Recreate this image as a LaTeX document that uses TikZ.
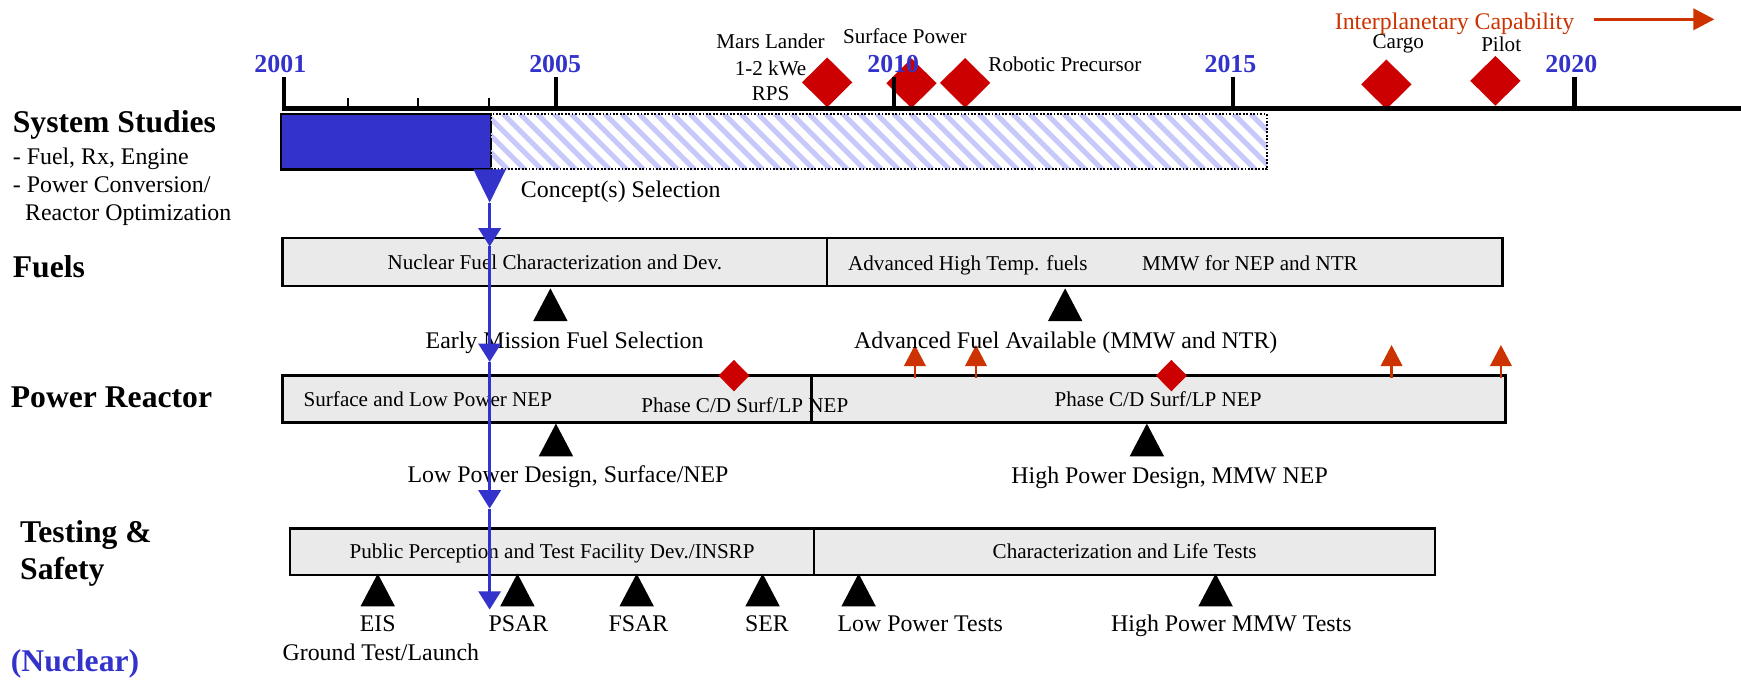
\documentclass[tikz,border=0pt]{standalone}
\usepackage{fontspec}
\setmainfont{Liberation Serif}
\usetikzlibrary{shapes.geometric,arrows.meta}
\definecolor{nblue}{RGB}{51,51,204}
\definecolor{nred}{RGB}{204,0,0}
\definecolor{norange}{RGB}{204,51,0}
\definecolor{boxgray}{RGB}{234,234,234}
\definecolor{hatchblue}{RGB}{200,200,250}
\begin{document}
\begin{tikzpicture}[x=1pt,y=-1pt,
  lbl/.style={font=\fontsize{21.5}{24}\selectfont, inner sep=0pt, text height=14.2pt, text depth=0pt},
  sm/.style={font=\fontsize{19}{22}\selectfont, inner sep=0pt, text height=12.5pt, text depth=0pt},
  hd/.style={font=\bfseries\fontsize{28.5}{32}\selectfont, inner sep=0pt, text height=18.8pt, text depth=0pt, anchor=west},
  yr/.style={font=\bfseries\fontsize{23.3}{26}\selectfont, text=nblue, inner sep=0pt, text height=15.7pt, text depth=0pt},
  gbox/.style={draw=black, line width=2.2pt, fill=boxgray, inner sep=0pt},
  bigdiam/.style={diamond, fill=nred, inner sep=0pt, minimum width=45.5pt, minimum height=45pt},
  smalldiam/.style={diamond, fill=nred, inner sep=0pt, minimum width=28pt, minimum height=28.5pt},
  majortick/.style={line width=4pt},
  minortick/.style={line width=2pt},
  flow/.style={draw=nblue, line width=2.6pt, -{Triangle[length=16.5pt,width=20pt]}},
  oarrow/.style={draw=norange, line width=2.3pt, -{Triangle[length=19pt,width=19.3pt]}},
  ms/.pic={\fill (-15.5,29.5) -- (15.5,29.5) -- (0,0) -- cycle;}
]
\useasboundingbox (0,0) rectangle (1568,612);

% ---- milestone diamonds on the timeline
\node[bigdiam] (ml) at (745,74.2) {};
\node[bigdiam] (sp) at (820.9,75) {};
\node[bigdiam] (rp) at (869.2,74.7) {};
\node[bigdiam] (cg) at (1248.6,76) {};
\node[bigdiam] (pl) at (1346.8,72.8) {};

% ---- timeline
\coordinate (tl0) at (253.8,97.6);
\coordinate (tl1) at (1568,97.6);
\draw[line width=4.2pt] (tl0) -- (tl1);
\foreach \x in {255.8,500.8,805,1110.5,1418.2} \draw[majortick] (\x,69) -- (\x,97.6);
\foreach \x in {313.3,376.7,440.2} \draw[minortick] (\x,88) -- (\x,97.6);

\node[yr] (y2001) at (252.5,57) {2001};
\node[yr] (y2005) at (500,57) {2005};
\node[yr] (y2010) at (804.5,57) {2010};
\node[yr] (y2015) at (1108.2,57) {2015};
\node[yr] (y2020) at (1415.2,57) {2020};

\node[sm] (ml1) at (694,37.5) {Mars Lander};
\node[sm] (ml2) at (694,61.5) {1-2 kWe};
\node[sm] (ml3) at (694,84) {RPS};
\node[sm] (spl) at (815,33) {Surface Power};
\node[sm, anchor=west] (rpl) at (890,58.5) {Robotic Precursor};
\node[sm] (cgl) at (1259.3,37.5) {Cargo};
\node[sm] (pll) at (1352,40.5) {Pilot};
\node[lbl, text=norange, anchor=west] (ipc) at (1202,19.5) {Interplanetary Capability};
\coordinate (ia0) at (1436,17.4);
\coordinate (ia1) at (1544,17.4);
\draw[oarrow, line width=2.4pt] (ia0) -- (ia1);

% ---- system studies bars
\node[draw=black, line width=2.2pt, fill=nblue, inner sep=0pt, minimum width=189pt, minimum height=49.8pt] (ssdone) at (347.5,127.6) {};
\begin{scope}
  \clip (442,102.7) rectangle (1141,152.5);
  \foreach \x in {0,1,...,49}
    \draw[hatchblue, line width=4.6pt] ({392+15.3*\x},102.7) -- ++(49.8,49.8);
\end{scope}
\node[draw=black, line width=1.8pt, dash pattern=on 1.6pt off 1.5pt,
      inner sep=0pt, minimum width=699pt, minimum height=49.8pt] (ssplan) at (791.5,127.6) {};

\coordinate (csl0) at (426.3,152.5);
\coordinate (csr0) at (455.7,152.5);
\coordinate (cs) at (441,182.5);
\fill[nblue] (csl0) -- (csr0) -- (cs) -- cycle;
\node[lbl, anchor=west] (csl) at (469,171) {Concept(s) Selection};

% ---- row headings
\node[hd] (h1) at (11.4,109.6) {System Studies};
\node[lbl, anchor=west] (h1a) at (11.4,140.7) {- Fuel, Rx, Engine};
\node[lbl, anchor=west] (h1b) at (11.4,165.9) {- Power Conversion/};
\node[lbl, anchor=west] (h1c) at (22.4,191.7) {Reactor Optimization};
\node[hd] (h2) at (11.4,240.2) {Fuels};
\node[hd] (h3) at (9.6,357.3) {Power Reactor};
\node[hd] (h4) at (18,478.9) {Testing \&};
\node[hd] (h5) at (18,512.3) {Safety};
\node[hd, text=nblue] (h6) at (9.6,595.5) {(Nuclear)};

% ---- boxes
\node[gbox, minimum width=490.6pt, minimum height=43pt] (f1) at (499.7,236.1) {};
\node[gbox, minimum width=608pt, minimum height=43pt] (f2) at (1049,236.1) {};
\node[gbox, minimum width=476.6pt, minimum height=42.4pt] (pa) at (492.7,359.5) {};
\node[gbox, minimum width=624.7pt, minimum height=42.4pt] (pb) at (1043.35,359.5) {};
\node[gbox, minimum width=472.3pt, minimum height=42pt] (ta) at (497.15,496.9) {};
\node[gbox, minimum width=559.1pt, minimum height=42pt] (tb) at (1012.85,496.9) {};

\node[sm] (f1t) at (f1.center) {Nuclear Fuel Characterization and Dev.};
\node[sm, anchor=west] (f2a) at (763.7,237.2) {Advanced High Temp. fuels};
\node[sm, anchor=west] (f2b) at (1028.4,237.2) {MMW for NEP and NTR};
\node[sm, anchor=west] (paa) at (273.3,360) {Surface and Low Power NEP};
\node[sm, anchor=west] (pab) at (577.5,365.7) {Phase C/D Surf/LP NEP};
\node[sm] (pbt) at (1043,360) {Phase C/D Surf/LP NEP};
\node[sm] (tat) at (ta.center) {Public Perception and Test Facility Dev./INSRP};
\node[sm] (tbt) at (tb.center) {Characterization and Life Tests};

\node[smalldiam] (pd1) at (661,338.3) {};
\node[smalldiam] (pd2) at (1055,338.3) {};

\foreach \x/\n in {824/oa, 879/ob, 1253.3/oc, 1351.8/od}{
  \coordinate (\n0) at (\x,340);
  \coordinate (\n1) at (\x,310.7);
  \draw[oarrow] (\n0) -- (\n1);
}

% ---- black milestone triangles
\pic at (495.7,259.7) {ms};
\pic at (959.3,259.7) {ms};
\pic at (500.7,381.5) {ms};
\pic at (1032.9,381.5) {ms};
\pic at (340.2,516.6) {ms};
\pic at (466,516.6) {ms};
\pic at (573.4,516.6) {ms};
\pic at (686.8,516.6) {ms};
\pic at (773.3,516.6) {ms};
\pic at (1094.8,516.6) {ms};

\node[lbl] (ems) at (508.5,306.8) {Early Mission Fuel Selection};
\node[lbl] (afa) at (959.9,307) {Advanced Fuel Available (MMW and NTR)};
\node[lbl] (lpd) at (511.6,427.8) {Low Power Design, Surface/NEP};
\node[lbl] (hpd) at (1053.4,428) {High Power Design, MMW NEP};
\node[lbl] (eis) at (340.2,561.4) {EIS};
\node[lbl] (gtl) at (343,587.8) {Ground Test/Launch};
\node[lbl] (psar) at (467,561.4) {PSAR};
\node[lbl] (fsar) at (575,561.4) {FSAR};
\node[lbl] (ser) at (690.8,561.4) {SER};
\node[lbl] (lpt) at (828.8,561.4) {Low Power Tests};
\node[lbl] (hpt) at (1109,561.4) {High Power MMW Tests};

% ---- blue flow line
\coordinate (b1) at (441,222);
\coordinate (b2) at (441,326);
\coordinate (b3) at (441,458);
\coordinate (b4) at (441,549);
\draw[flow] (cs) -- (b1);
\draw[flow] (b1) -- (b2);
\draw[flow] (b2) -- (b3);
\draw[flow] (b3) -- (b4);
\end{tikzpicture}
\end{document}
